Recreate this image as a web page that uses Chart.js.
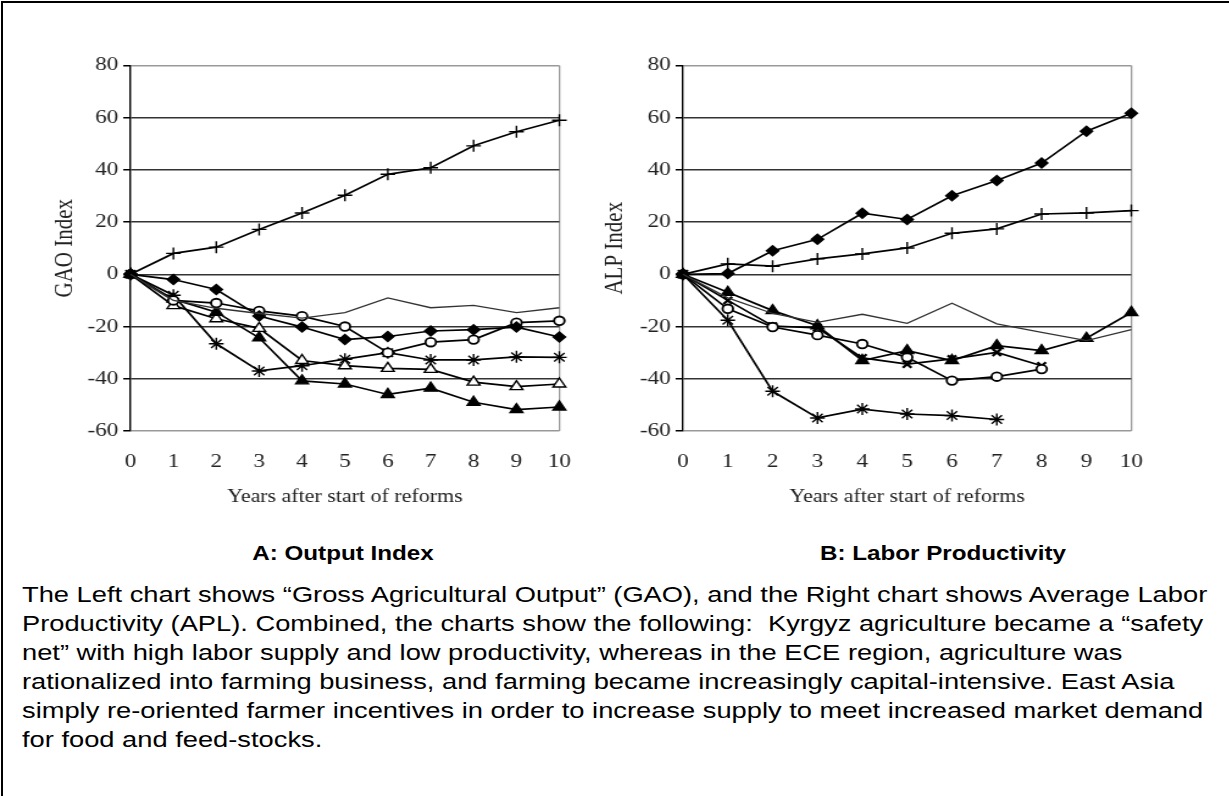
<!DOCTYPE html>
<html>
<head>
<meta charset="utf-8">
<script src="https://cdn.jsdelivr.net/npm/chart.js@4.4.1/dist/chart.umd.min.js"></script>
<style>
  body { margin: 0; background: #fff; width: 1229px; height: 796px; overflow: hidden; position: relative; }
  #frame { position: absolute; left: 1px; top: 1px; width: 1240px; height: 820px; border-left: 2px solid #000; border-top: 2px solid #000; }
  /* the source picture is stretched sideways, so the charts and text are too */
  .wrap { position: absolute; top: 50px; transform: scaleX(1.22); transform-origin: 0 0; }
  #wrapA { left: 50px; }
  #wrapB { left: 600px; }
  .cap { position: absolute; top: 542px; font: bold 20px "Liberation Sans", Arial, sans-serif; color: #000; white-space: nowrap; transform: translateX(-50%) scaleX(1.21); }
  #text { position: absolute; left: 22px; top: 580px; font: 22px/29px "Liberation Sans", Arial, sans-serif; color: #000; white-space: nowrap; transform: scaleX(1.24); transform-origin: 0 0; }
</style>
</head>
<body>
<div id="frame"></div>
<div class="wrap" id="wrapA"><canvas id="cvA" width="447" height="461"></canvas></div>
<div class="wrap" id="wrapB"><canvas id="cvB" width="465" height="461"></canvas></div>
<div class="cap" style="left:343px">A: Output Index</div>
<div class="cap" style="left:943px">B: Labor Productivity</div>
<div id="text">The Left chart shows “Gross Agricultural Output” (GAO), and the Right chart shows Average Labor<br>Productivity (APL). Combined, the charts show the following:&nbsp; Kyrgyz agriculture became a “safety<br>net” with high labor supply and low productivity, whereas in the ECE region, agriculture was<br>rationalized into farming business, and farming became increasingly capital-intensive. East Asia<br>simply re-oriented farmer incentives in order to increase supply to meet increased market demand<br>for food and feed-stocks.</div>

<script>
const years = [0, 1, 2, 3, 4, 5, 6, 7, 8, 9, 10];
const yTicks = [-60, -40, -20, 0, 20, 40, 60, 80];

// A: GAO index
const gaoPlus     = [0, 8, 10.4, 17.2, 23.5, 30.3, 38.3, 40.8, 49.2, 54.6, 59];
const gaoDiamond  = [0, -2, -5.8, -16, -20.2, -25, -23.8, -21.7, -21.2, -20.2, -24];
const gaoCircle   = [0, -10, -11, -14, -16, -20, -30, -26, -25, -18.5, -17.8];
const gaoTriFill  = [0, -9.5, -14.5, -24.3, -40.8, -42, -46, -43.6, -49, -51.8, -50.8];
const gaoTriOpen  = [0, -12, -17, -20.7, -33, -35, -36, -36.4, -41.3, -43, -42];
const gaoStar     = [0, -8, -26.6, -37, -35, -32.5, -30, -32.8, -32.8, -31.6, -31.8];
const gaoPlain    = [0, -10, -13, -15, -16.8, -14.7, -9, -12.8, -11.9, -14.7, -12.8];

// B: ALP index
const alpDiamond  = [0, 0.3, 9, 13.4, 23.4, 21, 30.1, 35.9, 42.6, 54.8, 61.7];
const alpPlus     = [0, 4, 3.1, 5.9, 7.8, 10.1, 15.7, 17.4, 23.1, 23.5, 24.4];
const alpStar     = [0, -17.6, -44.8, -55, -51.6, -53.5, -54.1, -55.6];
const alpPlain    = [0, -9, -15, -18.4, -15.3, -18.8, -11.1, -19, -22.2, -25.4, -21.2];
const alpTriFill  = [0, -6.9, -13.9, -19.7, -33, -29.2, -33, -27.3, -29.2, -24.5, -14.6];
const alpCircle   = [0, -13.2, -20.2, -23.3, -26.7, -31.8, -40.7, -39.2, -36.3];
const alpCross    = [0, -10, -19.8, -20.5, -32, -34.4, -32.4, -29.9, -35];

const markers = {
  plus:    { pointStyle: 'cross', pointRadius: 6, pointBackgroundColor: '#000' },
  diamond: { pointStyle: 'rectRot', pointRadius: 5, pointBackgroundColor: '#000' },
  circle:  { pointStyle: 'circle', pointRadius: 4.3, pointBackgroundColor: '#fff', pointBorderWidth: 1.8 },
  triFill: { pointStyle: 'triangle', pointRadius: 6, pointBackgroundColor: '#000' },
  triOpen: { pointStyle: 'triangle', pointRadius: 6, pointBackgroundColor: '#fff' },
  star:    { pointStyle: 'star', pointRadius: 6, pointBackgroundColor: '#000' },
  cross:   { pointStyle: 'crossRot', pointRadius: 5, pointBackgroundColor: '#000', pointBorderWidth: 2.2 },
  plain:   { pointRadius: 0, borderWidth: 1.3, borderColor: '#333' }
};

function series(values, kind) {
  return Object.assign({
    data: values.map((v, i) => ({ x: years[i], y: v })),
    borderColor: '#000',
    borderWidth: 1.7,
    pointBorderColor: '#000',
    pointBorderWidth: 1.4,
    tension: 0,
    clip: false
  }, markers[kind]);
}

const serif = '"Liberation Serif", "DejaVu Serif", serif';

function makeChart(id, yTitle, datasets, yWidth) {
  return new Chart(document.getElementById(id), {
    type: 'line',
    data: { datasets: datasets },
    options: {
      responsive: false,
      animation: false,
      layout: { padding: { top: 13, right: 13, left: 0, bottom: 0 } },
      plugins: { legend: { display: false }, tooltip: { enabled: false } },
      scales: {
        x: {
          type: 'linear', min: 0, max: 10,
          afterBuildTicks: s => { s.ticks = years.map(v => ({ value: v })); },
          afterFit: s => { s.height = 80; },
          border: { display: false },
          grid: {
            drawTicks: false,
            lineWidth: 1.3,
            color: c => c.tick && c.tick.value === 10 ? '#999' : 'rgba(0,0,0,0)'
          },
          ticks: { padding: 20, color: '#222', font: { family: serif, size: 19 } },
          title: { display: true, text: 'Years after start of reforms', color: '#222',
                   font: { family: serif, size: 18 }, padding: { top: 0, bottom: 3 } }
        },
        y: {
          min: -60, max: 80,
          afterBuildTicks: s => { s.ticks = yTicks.map(v => ({ value: v })); },
          afterFit: s => { s.width = yWidth; },
          border: { display: true, color: '#000', width: 1.4 },
          grid: {
            lineWidth: 1.5,
            tickLength: 6,
            tickColor: '#000',
            color: c => (c.tick && (c.tick.value === 80 || c.tick.value === -60)) ? '#999' : '#333'
          },
          ticks: { padding: 4, color: '#222', font: { family: serif, size: 19 } },
          title: { display: true, text: yTitle, color: '#222',
                   font: { family: serif, size: 21 }, padding: { top: 0, bottom: 0 } }
        }
      }
    }
  });
}

makeChart('cvA', 'GAO Index', [
  series(gaoPlain, 'plain'),
  series(gaoPlus, 'plus'),
  series(gaoDiamond, 'diamond'),
  series(gaoCircle, 'circle'),
  series(gaoTriFill, 'triFill'),
  series(gaoTriOpen, 'triOpen'),
  series(gaoStar, 'star')
], 66);

makeChart('cvB', 'ALP Index', [
  series(alpPlain, 'plain'),
  series(alpDiamond, 'diamond'),
  series(alpPlus, 'plus'),
  series(alpStar, 'star'),
  series(alpTriFill, 'triFill'),
  series(alpCircle, 'circle'),
  series(alpCross, 'cross')
], 68);
</script>
</body>
</html>
